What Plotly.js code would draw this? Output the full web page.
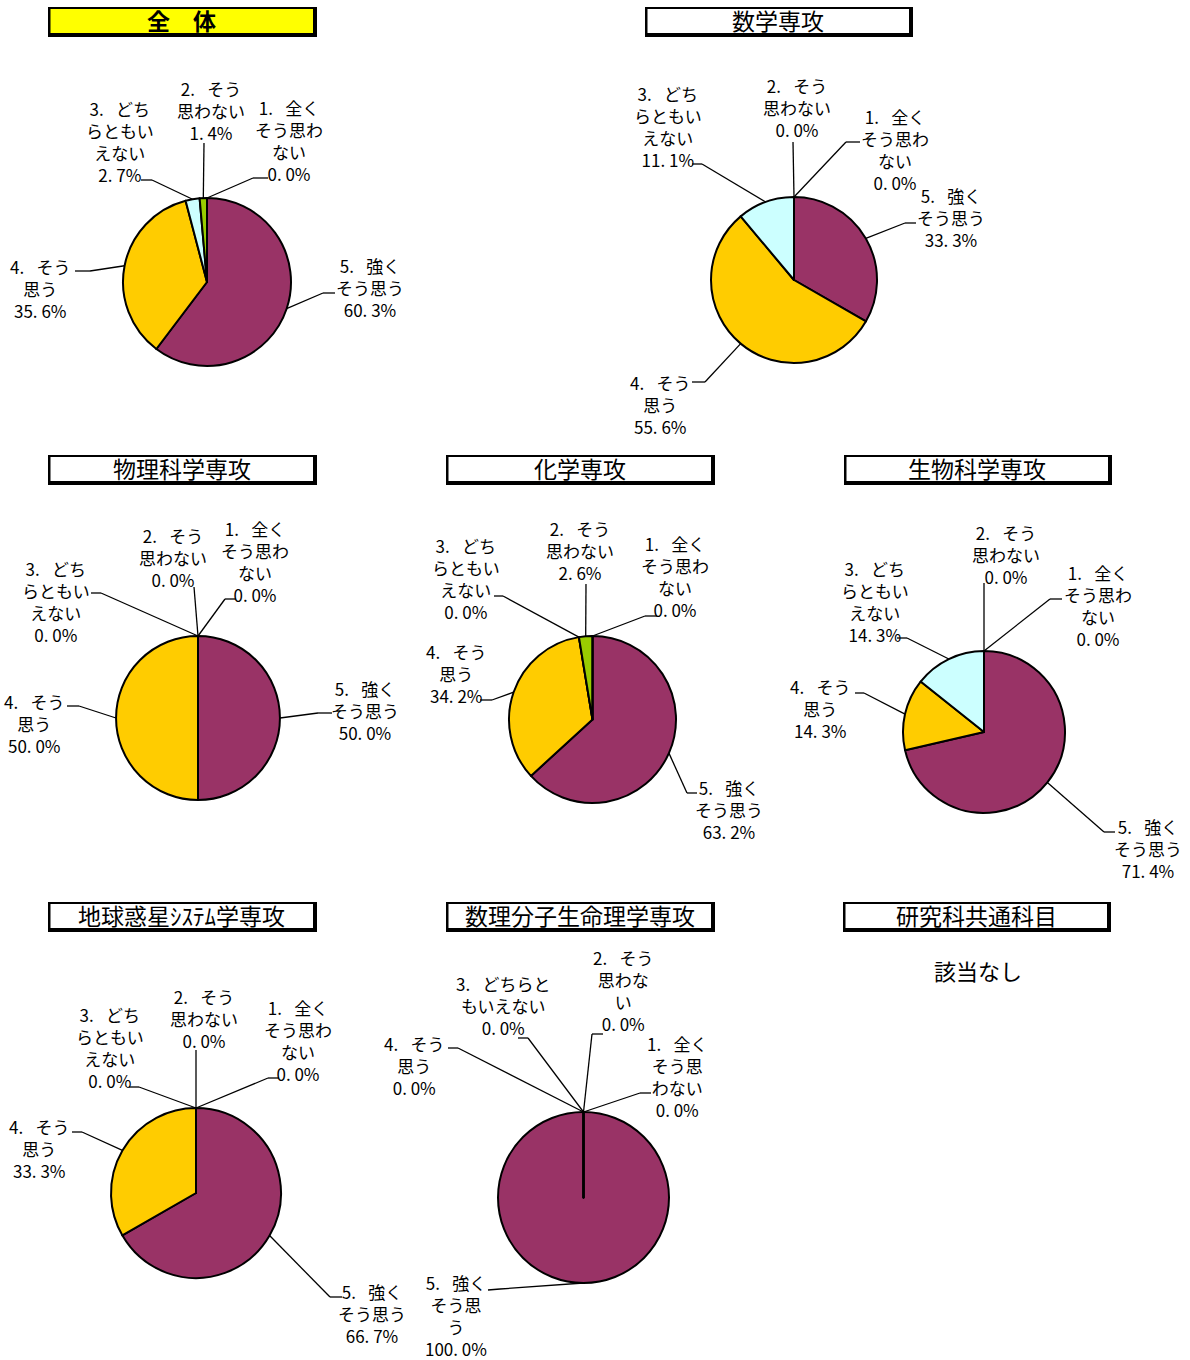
<!DOCTYPE html>
<html>
<head>
<meta charset="utf-8">
<script src="https://cdn.plot.ly/plotly-3.0.1.min.js"></script>
<style>body{margin:0;background:#fff}</style>
</head>
<body>
<div id="chart" style="width:1190px;height:1360px"></div>
<script>
var W = 1190, H = 1360;

// 回答カテゴリ（5 -> 1 の順に12時から時計回り）
var categories = ['5. 強くそう思う', '4. そう思う', '3. どちらともいえない', '2. そう思わない', '1. 全くそう思わない'];
var colors = ['#993366', '#FFCC00', '#CCFFFF', '#99CC00', '#FF99CC'];

var panelTitles = ['全\u3000体', '数学専攻', '物理科学専攻', '化学専攻', '生物科学専攻',
                   '地球惑星ｼｽﾃﾑ学専攻', '数理分子生命理学専攻', '研究科共通科目'];

// 割合 (%)
var zentai   = [60.3, 35.6, 2.7, 1.4, 0.0];
var sugaku   = [33.3, 55.6, 11.1, 0.0, 0.0];
var butsuri  = [50.0, 50.0, 0.0, 0.0, 0.0];
var kagaku   = [63.2, 34.2, 0.0, 2.6, 0.0];
var seibutsu = [71.4, 14.3, 14.3, 0.0, 0.0];
var chikyu   = [66.7, 33.3, 0.0, 0.0, 0.0];
var suri     = [100.0, 0.0, 0.0, 0.0, 0.0];

// ラベルの折り返し
var SP = '\u2002 ';
var wrapA = ['5.' + SP + '強く<br>そう思う', '4.' + SP + 'そう<br>思う', '3.' + SP + 'どち<br>らともい<br>えない',
             '2.' + SP + 'そう<br>思わない', '1.' + SP + '全く<br>そう思わ<br>ない'];
var wrapB = ['5.' + SP + '強く<br>そう思<br>う', '4.' + SP + 'そう<br>思う', '3.' + SP + 'どちらと<br>もいえない',
             '2.' + SP + 'そう<br>思わな<br>い', '1.' + SP + '全く<br>そう思<br>わない'];

// pie position (px) + label pos [tx, ty, attachx, attachy, elbowx, elbowy]
var panels = [
  {vals: zentai, wrap: wrapA, cx: 207, cy: 282, r: 84,
   lab: [[370,287,335,293,323,293],[40,288,75,271,90,271],[120,142,141,180,152,180],
         [211,110,204,143,204,143],[289,141,268,178,253,178]]},
  {vals: sugaku, wrap: wrapA, cx: 794, cy: 280, r: 83,
   lab: [[951,218,916,223,905,223],[660,404,692,382,705,382],[668,126,692,164,702,164],
         [797,108,793,142,793,142],[895,149,860,142,846,142]]},
  {vals: butsuri, wrap: wrapA, cx: 198, cy: 718, r: 82,
   lab: [[365,710,332,713,318,713],[34,723,67,706,79,706],[56,601,91,593,101,593],
         [173,557,194,587,194,587],[255,561,236,599,225,599]]},
  {vals: kagaku, wrap: wrapA, cx: 592.5, cy: 719.5, r: 83.5,
   lab: [[729,809,697,793,687,793],[456,673,480,700,492,700],[466,578,494,596,503,596],
         [580,550,586,584,586,584],[675,576,657,616,645,616]]},
  {vals: seibutsu, wrap: wrapA, cx: 984, cy: 732, r: 81,
   lab: [[1148,848,1115,832,1104,832],[820,708,855,693,864,693],[875,601,897,638,907,638],
         [1006,554,984,583,984,583],[1098,605,1062,599,1050,599]]},
  {vals: chikyu, wrap: wrapA, cx: 196, cy: 1193, r: 85,
   lab: [[372,1313,342,1297,330,1297],[39,1148,72,1132,82,1132],[110,1047,129,1087,139,1087],
         [204,1018,196,1050,196,1050],[298,1040,279,1078,268,1078]]},
  {vals: suri, wrap: wrapB, cx: 583.5, cy: 1197.5, r: 85.5,
   lab: [[456,1315,488,1290,500,1289],[414,1065,448,1048,458,1048],[503,1005,518,1038,528,1038],
         [623,990,603,1034,592,1034],[677,1076,651,1093,640,1093]]}
];

// title boxes [x0, y0, x1, y1]
var boxes = [[48,7,317,37],[645,7,913,37],[48,455,317,485],[446,455,715,485],
             [844,455,1112,485],[48,902,317,932],[446,902,715,932],[843,902,1111,932]];

function px(x) { return x / W; }
function py(y) { return 1 - y / H; }
function fmt(v) { return v.toFixed(1).replace('.', '. ') + '%'; }

var FONT = 'Noto Sans CJK JP';
var data = [];
var shapes = [];
var annotations = [];

panels.forEach(function(p) {
  data.push({
    type: 'pie',
    values: p.vals,
    labels: categories,
    sort: false,
    direction: 'clockwise',
    rotation: 0,
    textinfo: 'none',
    hoverinfo: 'label+percent',
    showlegend: false,
    marker: {colors: colors, line: {color: '#000', width: 2}},
    domain: {x: [px(p.cx - p.r), px(p.cx + p.r)], y: [py(p.cy + p.r), py(p.cy - p.r)]}
  });

  var total = p.vals.reduce(function(a, b) { return a + b; }, 0);
  var cum = 0;
  p.vals.forEach(function(v, i) {
    // leader goes to the middle of the slice, on the rim
    var ang = 2 * Math.PI * (cum + v / 2) / total;
    cum += v;
    var ex = p.cx + p.r * Math.sin(ang);
    var ey = p.cy - p.r * Math.cos(ang);
    var L = p.lab[i];
    annotations.push({
      xref: 'paper', yref: 'paper', x: px(L[0]), y: py(L[1]),
      xanchor: 'center', yanchor: 'middle', align: 'center', showarrow: false,
      text: p.wrap[i] + '<br>' + fmt(v),
      font: {family: FONT, size: 17, color: '#000'}
    });
    shapes.push({type: 'line', xref: 'paper', yref: 'paper',
      x0: px(L[2]), y0: py(L[3]), x1: px(L[4]), y1: py(L[5]),
      line: {color: '#000', width: 1.3}});
    shapes.push({type: 'line', xref: 'paper', yref: 'paper',
      x0: px(L[4]), y0: py(L[5]), x1: px(ex), y1: py(ey),
      line: {color: '#000', width: 1.3}});
  });
});

boxes.forEach(function(b, i) {
  shapes.push({type: 'rect', xref: 'paper', yref: 'paper', layer: 'below',
    x0: px(b[0]), y0: py(b[1]), x1: px(b[2]), y1: py(b[3]),
    fillcolor: '#000', line: {width: 0}});
  shapes.push({type: 'rect', xref: 'paper', yref: 'paper', layer: 'below',
    x0: px(b[0] + 2.5), y0: py(b[1] + 2), x1: px(b[2] - 4), y1: py(b[3] - 4),
    fillcolor: i === 0 ? '#FFFF00' : '#FFFFFF', line: {width: 0}});
  annotations.push({
    xref: 'paper', yref: 'paper', x: px((b[0] + b[2] - 1.5) / 2), y: py((b[1] + b[3] - 4) / 2),
    xanchor: 'center', yanchor: 'middle', showarrow: false,
    text: i === 0 ? '<b>' + panelTitles[i] + '</b>' : panelTitles[i],
    font: {family: FONT, size: 23, color: '#000'}
  });
});

annotations.push({
  xref: 'paper', yref: 'paper', x: px(978), y: py(970),
  xanchor: 'center', yanchor: 'middle', showarrow: false,
  text: '該当なし', font: {family: FONT, size: 22, color: '#000'}
});

var layout = {
  width: W, height: H,
  margin: {l: 0, r: 0, t: 0, b: 0},
  paper_bgcolor: '#fff',
  showlegend: false,
  shapes: shapes,
  annotations: annotations
};

Plotly.newPlot('chart', data, layout, {staticPlot: true});
</script>
</body>
</html>
